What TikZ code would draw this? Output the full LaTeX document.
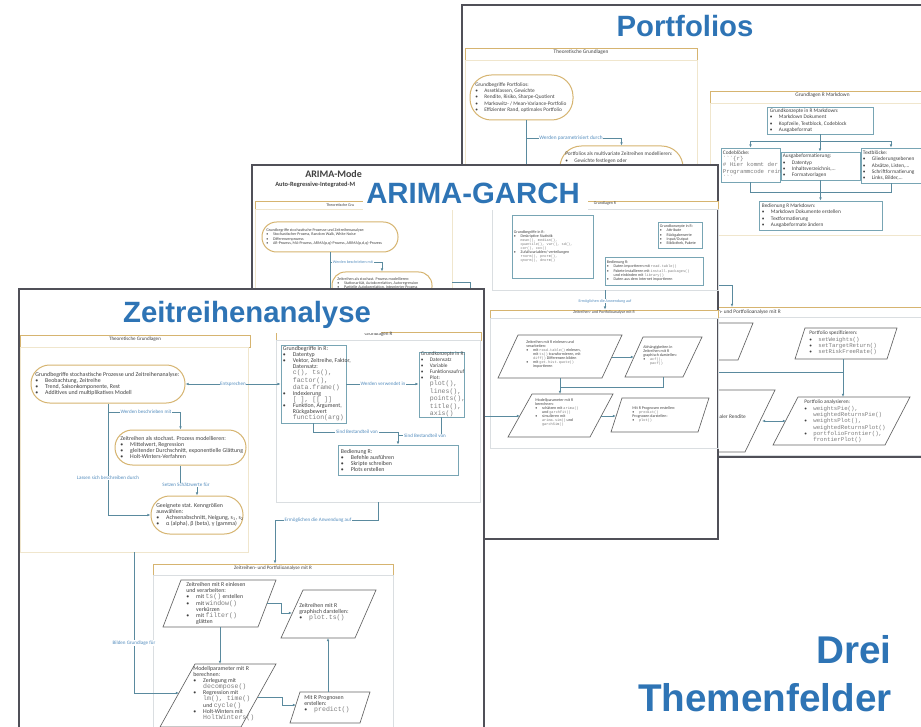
\documentclass[tikz,border=0pt]{standalone}
\usepackage{fontspec}
\setmainfont{Carlito}
\setmonofont{Liberation Mono}
\newfontfamily\ttlfont{Liberation Sans}
\usetikzlibrary{fit,arrows.meta,calc}
\definecolor{ttl}{RGB}{46,116,181}
\definecolor{gold}{RGB}{214,180,112}
\definecolor{goldl}{RGB}{240,230,205}
\definecolor{teal}{RGB}{120,165,180}
\definecolor{grl}{RGB}{218,222,225}
\definecolor{connc}{RGB}{90,138,158}
\definecolor{labc}{RGB}{84,141,190}
\definecolor{pgc}{RGB}{80,80,88}
\definecolor{parac}{RGB}{100,100,100}
\definecolor{txc}{RGB}{65,65,65}
\definecolor{cdc}{RGB}{125,125,125}
\newcommand\fZ{\fontsize{4.4}{4.5}\selectfont}
\newcommand\fZl{\fontsize{3.8}{4.5}\selectfont}
\newcommand\fA{\fontsize{3.0}{3.1}\selectfont}
\newcommand\fP{\fontsize{4.0}{4.7}\selectfont}
\newcommand\bl{\makebox[1.7em][l]{\textbullet}}
\newcommand\ind{\hspace*{1.7em}}
\def\cdsz{4}
\newcommand\cd[1]{{\ttfamily\color{cdc}\fontsize{\cdsz}{3}\selectfont #1}}
\tikzset{
 pagebox/.style={draw=pgc, fill=white, line width=0.8pt},
 hdr/.style={draw=gold, line width=0.5pt, fill=white, inner sep=0pt, text=txc},
 cont/.style={draw=goldl, line width=0.6pt, inner sep=0pt},
 rcont/.style={draw=grl, line width=0.6pt, inner sep=0pt},
 stad/.style={draw=gold, line width=0.75pt, fill=white, inner sep=0pt},
 tbox/.style={draw=teal, line width=0.55pt, fill=white, inner sep=0pt},
 para/.style={draw=parac, line width=0.5pt, fill=white},
 tx/.style={text=txc, align=left, inner sep=0pt},
 conn/.style={draw=connc, line width=0.55pt},
 arr/.style={conn, -{Latex[length=2.4pt,width=2pt]}},
 darr/.style={conn, {Latex[length=2.4pt,width=2pt]}-{Latex[length=2.4pt,width=2pt]}},
 lab/.style={text=labc, fill=white, inner sep=0.5pt},
 ttlst/.style={font=\ttlfont\bfseries\fontsize{22}{24}\selectfont, text=ttl, inner sep=0pt},
}
\begin{document}
\begin{tikzpicture}[x=0.75pt,y=-0.75pt]
\useasboundingbox (0,0) rectangle (921,727);
\fill[white] (0,0) rectangle (921,727);
\clip (0,0) rectangle (921,727);

%================ PORTFOLIOS PAGE ================
\def\cdsz{4.3}
\path[pagebox] (462,5) rectangle (935,457);
\node[ttlst, anchor=base] (tP) at (685,37) {Portfolios};
\node[hdr, font=\fP, fit={(465,48)(697,60)}] (hP1) {Theoretische Grundlagen};
\node[cont, fit={(465,60)(697,330)}] (pc1) {};
\node[stad, rounded corners=16pt, fit={(470,75)(573,120)}] (pA) {};
\node[tx, font=\fP, anchor=west] (pAt) at (475,97.5) {Grundbegriffe Portfolios:\\\bl Assetklassen, Gewichte\\\bl Rendite, Risiko, Sharpe-Quotient\\\bl Markowitz- / Mean-Variance-Portfolio\\\bl Effizienter Rand, optimales Portfolio};
\node[stad, rounded corners=16pt, fit={(560,146)(683,192)}] (pB) {};
\node[tx, font=\fP, anchor=north west] (pBt) at (565,152) {Portfolios als multivariate Zeitreihen modellieren:\\\bl Gewichte festlegen oder\\\ind optimieren};
\draw[conn] ($(pA.south)+(5,0)$) -- ++(0,60);
\draw[arr] ($(pA.south)+(5,18)$) -| (pB.north);
\node[lab, font=\fP] (lP1) at (571,138) {Werden parametrisiert durch};

\node[hdr, font=\fP, fit={(710,91)(935,103)}] (hP2) {Grundlagen R Markdown};
\node[cont, fit={(710,103)(935,235)}] (pc2) {};
\node[tbox, fit={(767,107)(873,134)}] (pR1) {};
\node[tx, font=\fP, anchor=west] (pR1t) at ($(pR1.west)+(3,0)$) {Grundkonzepte in R Markdown:\\\bl Markdown Dokument\\\bl Kopfzeile, Textblock, Codeblock\\\bl Ausgabeformat};
\node[tbox, fit={(721,148)(780,182)}] (pR2) {};
\node[tx, font=\fP, anchor=west] (pR2t) at ($(pR2.west)+(2,0)$) {Codeblöcke:\\\cd{```\{r\}}\\\cd{\# Hier kommt der}\\\cd{Programmcode rein}\\\cd{```}};
\node[tbox, fit={(781,152)(860,180)}] (pR3) {};
\node[tx, font=\fP, anchor=west] (pR3t) at ($(pR3.west)+(2,0)$) {Ausgabeformatierung:\\\bl Datentyp\\\bl Inhaltsverzeichnis,...\\\bl Formatvorlagen};
\node[tbox, fit={(861,148)(921,183)}] (pR4) {};
\node[tx, font=\fP, anchor=west] (pR4t) at ($(pR4.west)+(2,0)$) {Textblöcke:\\\bl Gliederungsebenen\\\bl Absätze, Listen,...\\\bl Schriftformatierung\\\bl Links, Bilder,...};
\node[tbox, fit={(759,201)(882,230)}] (pR5) {};
\node[tx, font=\fP, anchor=west] (pR5t) at ($(pR5.west)+(3,0)$) {Bedienung R Markdown:\\\bl Markdown Dokumente erstellen\\\bl Textformatierung\\\bl Ausgabeformate ändern};
\draw[conn] (pR1.south) -- ++(0,7) coordinate (pj1);
\draw[arr] (pj1) -| (pR2.north);
\draw[arr] (pj1) -| (pR4.north);
\draw[arr] (pj1) -- (pj1 |- pR3.north);
\draw[conn] (pR2.south) -- ++(0,10) -| (pR4.south);
\draw[arr] (pR3.south) -- (pR3.south |- pR5.north);

\node[hdr, fit={(500,307)(935,317)}] (hP3) {};
\node[tx, font=\fontsize{4.0}{4.7}\selectfont, anchor=east] (hP3t) at (781,312) {Zeitreihen- und Portfolioanalyse mit R};
\node[rcont, fit={(500,317)(935,455)}] (pc3) {};
\coordinate (pE1) at (700,285);
\coordinate (pE2) at (732,307);
\draw[arr] (pE1) -| (pE2);
\draw[para] (640,323) -- (753,323) -- (738,360) -- (625,360) -- cycle;
\node[tx, font=\fP, anchor=north west] (pL1t) at (650,328) {Renditen mit R berechnen:\\\bl Rendite und Volatilität};
\coordinate (pL1b) at (690,360);
\coordinate (pJ) at (843,372);
\draw[conn] (pL1b) |- (pJ);
\draw[para] (805,328) -- (897,328) -- (887,359) -- (795,359) -- cycle;
\node[tx, font=\fP, anchor=north west] (pSt) at (809,331) {Portfolio spezifizieren:\\\bl \cd{setWeights()}\\\bl \cd{setTargetReturn()}\\\bl \cd{setRiskFreeRate()}};
\coordinate (pSb) at (843,359);
\coordinate (pAnT) at (843,397);
\draw[arr] (pSb) -- (pAnT);
\draw[para] (798,397) -- (910,397) -- (885,445) -- (773,445) -- cycle;
\node[tx, font=\fP, anchor=north west] (pAnt) at (804,400) {Portfolio analysieren:\\\bl \cd{weightsPie(),}\\\ind\cd{weightedReturnsPie()}\\\bl \cd{weightsPlot(),}\\\ind\cd{weightedReturnsPlot()}\\\bl \cd{portfolioFrontier(),}\\\ind\cd{frontierPlot()}};
\draw[para] (690,390) -- (775,390) -- (745,452) -- (660,452) -- cycle;
\node[tx, font=\fP, anchor=east] (pL2t) at (746,417) {Portfolio mit maximaler Rendite};
\coordinate (pL2r) at (762,421);
\coordinate (pAnl) at (786,421);
\draw[darr] (pL2r) -- (pAnl);

%================ ARIMA PAGE ================
\def\cdsz{2.7}
\path[pagebox] (252,165) rectangle (718,539);
\node[anchor=base west, font=\bfseries\fontsize{7.5}{8}\selectfont, text=txc, inner sep=0pt] (aM1) at (305,178) {ARIMA-Mode};
\node[anchor=base west, font=\bfseries\fontsize{4.8}{5}\selectfont, text=txc, inner sep=0pt] (aM2) at (275,187) {Auto-Regressive-Integrated-M};
\node[hdr, fit={(255,201)(452,209)}] (hA1) {};
\node[tx, font=\fA, anchor=west] (hA1t) at (326,205) {Theoretische Gru};
\node[cont, fit={(255,209)(452,420)}] (ac1) {};
\node[hdr, font=\fA, fit={(492,201)(718,209)}] (hA2) {Grundlagen R};
\node[rcont, fit={(492,209)(718,290)}] (ac2) {};
\fill[white] (363,168) rectangle (588,210.5);
\node[ttlst, anchor=base] (tA) at (473,204) {ARIMA-GARCH};

\node[stad, rounded corners=11pt, fit={(262,222)(398,252)}] (aA) {};
\node[tx, font=\fA, anchor=west] (aAt) at (266,237) {Grundbegriffe stochastische Prozesse und Zeitreihenanalyse:\\\bl Stochastischer Prozess, Random Walk, White Noise\\\bl Differenzenprozess\\\bl AR-Prozess, MA-Prozess, ARMA(p,q)-Prozess, ARIMA(p,d,q)-Prozess};
\node[stad, rounded corners=10pt, fit={(332,272)(432,300)}] (aB) {};
\node[tx, font=\fA, anchor=north west] (aBt) at (337,277) {Zeitreihen als stochast. Prozess modellieren:\\\bl Stationarität, Autokorrelation, Autoregression\\\bl Partielle Autokorrelation, Integrierter Prozess};
\draw[conn] (aA.south) -- ++(0,60);
\draw[arr] ($(aA.south)+(0,10)$) -| (aB.north);
\node[lab, font=\fA] (lA1) at (353,262) {Werden beschrieben mit};

\node[tbox, fit={(512,215)(593,278)}] (aR1) {};
\node[tx, font=\fA, anchor=west] (aR1t) at ($(aR1.west)+(2,0)$) {Grundbegriffe in R:\\\bl Deskriptive Statistik\\\ind\cd{mean(), median(),}\\\ind\cd{quantile(), var(), sd(),}\\\ind\cd{cor(), cov()}\\\bl Zufallsvariablen/-verteilungen\\\ind\cd{rnorm(), pnorm(),}\\\ind\cd{qnorm(), dnorm()}};
\node[tbox, fit={(658,222)(702,248)}] (aR2) {};
\node[tx, font=\fA, anchor=west] (aR2t) at ($(aR2.west)+(2,0)$) {Grundkonzepte in R:\\\bl Attribute\\\bl Rückgabewerte\\\bl Input/Output\\\bl Bibliothek, Pakete};
\node[tbox, fit={(605,257)(703,285)}] (aR3) {};
\node[tx, font=\fA, anchor=west] (aR3t) at ($(aR3.west)+(2,0)$) {Bedienung R:\\\bl Daten importieren mit \cd{read.table()}\\\bl Pakete installieren mit \cd{install.packages()}\\\ind und einbinden mit \cd{library()}\\\bl Daten aus dem Internet importieren};

\node[hdr, font=\fA, fit={(490,310)(718,318)}] (hA3) {Zeitreihen- und Portfolioanalyse mit R};
\node[rcont, fit={(490,318)(718,448)}] (ac3) {};
\draw[arr] (ac2.south) -- (ac2.south |- hA3.north);
\node[lab, font=\fA] (lA2) at (605,301) {Ermöglichen die Anwendung auf};

\draw[para] (518,335) -- (622,335) -- (602,378) -- (498,378) -- cycle;
\node[tx, font=\fA, anchor=north west] (aP1t) at (526,340) {Zeitreihen mit R einlesen und\\verarbeiten:\\\bl mit \cd{read.table()} einlesen,\\\ind mit \cd{ts()} transformieren, mit\\\ind\cd{diff()} Differenzen bilden\\\bl mit \cd{get.hist.quote()}\\\ind importieren};
\draw[para] (643,337) -- (702,337) -- (683,377) -- (625,377) -- cycle;
\node[tx, font=\fA, anchor=north west] (aP2t) at (643,345) {Abhängigkeiten in\\Zeitreihen mit R\\graphisch darstellen:\\\bl \cd{acf(),}\\\ind\cd{pacf()}};
\draw[para] (532,394) -- (613,394) -- (590,437) -- (508,437) -- cycle;
\node[tx, font=\fA, anchor=north west] (aP3t) at (535,398) {Modellparameter mit R\\berechnen:\\\bl schätzen mit \cd{arima()}\\\ind und \cd{garchFit()}\\\bl simulieren mit\\\ind\cd{arima.sim()} und\\\ind\cd{garchSim()}};
\draw[para] (622,398) -- (709,398) -- (698,432) -- (611,432) -- cycle;
\node[tx, font=\fA, anchor=north west] (aP4t) at (632,406) {Mit R Prognosen erstellen:\\\bl \cd{predict()}\\Prognosen darstellen:\\\bl \cd{plot()}};
\coordinate (aP1r) at (612,357);
\coordinate (aP2l) at (634,357);
\coordinate (aP1b) at (560,378);
\coordinate (aP3t) at (560,394);
\coordinate (aP2b) at (663,377);
\coordinate (aJ) at (560,387);
\coordinate (aP3r) at (601,416);
\coordinate (aP4l) at (616,416);
\coordinate (aL1) at (452,282);
\coordinate (aL2) at (470,416);
\coordinate (aP3l) at (520,416);
\draw[arr] (aP1r) -- (aP2l);
\draw[arr] (aP1b) -- (aP3t);
\draw[conn] (aP2b) |- (aJ);
\draw[arr] (aP3r) -- (aP4l);
\draw[arr] (aL1) -| (aL2) -- (aP3l);

%================ ZEITREIHEN PAGE ================
\def\cdsz{4.9}
\path[pagebox] (19,289) rectangle (484,745);
\node[hdr, font=\fZl, fit={(20,335)(250,347)}] (hZ1) {Theoretische Grundlagen};
\node[cont, fit={(20,347)(248,552)}] (zc1) {};
\node[hdr, font=\fZl, fit={(276,332)(481,340)}] (hZ2) {Grundlagen R};
\node[rcont, fit={(276,340)(480,502)}] (zc2) {};
\fill[white] (112,293) rectangle (381,333);
\node[ttlst, anchor=base] (tZ) at (247,323) {Zeitreihenanalyse};

\node[stad, rounded corners=14pt, fit={(31,365)(185,403)}] (zA) {};
\node[tx, font=\fZ, anchor=west] (zAt) at (35,384) {Grundbegriffe stochastische Prozesse und Zeitreihenanalyse:\\\bl Beobachtung, Zeitreihe\\\bl Trend, Saisonkomponente, Rest\\\bl Additives und multiplikatives Modell};
\node[stad, rounded corners=13pt, fit={(115,430)(246,465)}] (zB) {};
\node[tx, font=\fZ, anchor=west] (zBt) at (120,447.5) {Zeitreihen als stochast. Prozess modellieren:\\\bl Mittelwert, Regression\\\bl gleitender Durchschnitt, exponentielle Glättung\\\bl Holt-Winters-Verfahren};
\node[stad, rounded corners=14pt, fit={(151,496)(243,534)}] (zC) {};
\node[tx, font=\fZ, anchor=west] (zCt) at (156,515) {Geeignete stat. Kenngrößen\\auswählen:\\\bl Achsenabschnitt, Neigung, s\textsubscript{1}, s\textsubscript{2}\\\bl α (alpha), β (beta), γ (gamma)};
\draw[arr] (zA.south) |- (zC.west);
\draw[arr] ($(zA.south)+(0,9)$) -| (zB.north);
\draw[arr] (zB.south) -- ++(0,20) -| (zC.north);
\node[lab, font=\fZl] (lZ1) at (146,412) {Werden beschrieben mit};
\node[lab, font=\fZl] (lZ2) at (108,478) {Lassen sich beschreiben durch};
\node[lab, font=\fZl] (lZ3) at (186,485) {Setzen Schätzwerte für};

\node[tbox, fit={(281,345)(346,423)}] (zR1) {};
\node[tx, font=\fZ, anchor=west] (zR1t) at ($(zR1.west)+(2,0)$) {Grundbegriffe in R:\\\bl Datentyp\\\bl Vektor, Zeitreihe, Faktor,\\\ind Datensatz:\\\ind\cd{c(), ts(),}\\\ind\cd{factor(),}\\\ind\cd{data.frame()}\\\bl Indexierung\\\ind\cd{[ ], [[ ]]}\\\bl Funktion, Argument,\\\ind Rückgabewert\\\ind\cd{function(arg)}};
\node[tbox, fit={(419,352)(464,417)}] (zR2) {};
\node[tx, font=\fontsize{4.0}{4.5}\selectfont, anchor=west] (zR2t) at ($(zR2.west)+(2,0)$) {Grundkonzepte in R:\\\bl Datensatz\\\bl Variable\\\bl Funktionsaufruf\\\bl Plot:\\\ind\cd{plot(),}\\\ind\cd{lines(),}\\\ind\cd{points(),}\\\ind\cd{title(),}\\\ind\cd{axis()}};
\node[tbox, fit={(338,445)(458,475)}] (zR3) {};
\node[tx, font=\fZ, anchor=west] (zR3t) at ($(zR3.west)+(3,0)$) {Bedienung R:\\\bl Befehle ausführen\\\bl Skripte schreiben\\\bl Plots erstellen};
\draw[darr] (zA.east) -- (zR1.west);
\node[lab, font=\fZl] (lZ4) at (233,384) {Entsprechen};
\draw[arr] (zR1.east) -- (zR1.east -| zR2.west);
\node[lab, font=\fZl] (lZ5) at (383,384) {Werden verwendet in};
\draw[arr] (zR1.south) -- ++(0,9) -| (zR3.north);
\draw[conn] (zR2.south) |- ($(zR3.north)+(0,-9)$);
\node[lab, font=\fZl] (lZ6) at (357,432) {Sind Bestandteil von};
\node[lab, font=\fZl] (lZ7) at (425,436) {Sind Bestandteil von};

\node[hdr, font=\fZl, fit={(153,564)(393,575)}] (hZ3) {Zeitreihen- und Portfolioanalyse mit R};
\node[rcont, fit={(153,575)(393,760)}] (zc3) {};
\coordinate (zE) at (275,520);
\draw[arr] (zc2.south) |- (zE) -- (zE |- hZ3.north);
\node[lab, font=\fZl] (lZ8) at (318,520) {Ermöglichen die Anwendung auf};
\coordinate (zP3l) at (179,693);
\draw[arr] (zc1.south) |- (zP3l);
\node[lab, font=\fZl] (lZ9) at (134,643) {Bilden Grundlage für};

\draw[para] (181,580) -- (276,580) -- (258,627) -- (163,627) -- cycle;
\node[tx, font=\fZ, anchor=north west] (zP1t) at (186,582) {Zeitreihen mit R einlesen\\und verarbeiten:\\\bl mit \cd{ts()} erstellen\\\bl mit \cd{window()}\\\ind verkürzen\\\bl mit \cd{filter()}\\\ind glätten};
\draw[para] (303,590) -- (376,590) -- (355,638) -- (281,638) -- cycle;
\node[tx, font=\fZ, anchor=west] (zP2t) at (299,612) {Zeitreihen mit R\\graphisch darstellen:\\\bl \cd{plot.ts()}};
\draw[para] (195,664) -- (276,664) -- (241,727) -- (160,727) -- cycle;
\node[tx, font=\fZ, anchor=north west] (zP3t) at (193,666) {Modellparameter mit R\\berechnen:\\\bl Zerlegung mit\\\ind\cd{decompose()}\\\bl Regression mit\\\ind\cd{lm(), time()}\\\ind und \cd{cycle()}\\\bl Holt-Winters mit\\\ind\cd{HoltWinters()}};
\draw[para] (300,692) -- (370,692) -- (360,723) -- (290,723) -- cycle;
\node[tx, font=\fZ, anchor=north west] (zP4t) at (304,695) {Mit R Prognosen\\erstellen:\\\bl \cd{predict()}};
\coordinate (zP1r) at (267,603);
\coordinate (zP2l) at (292,613);
\coordinate (zP1b) at (220,627);
\coordinate (zP3t) at (220,664);
\coordinate (zP3r) at (258,697);
\coordinate (zP4l) at (296,705);
\coordinate (zP4t) at (328,692);
\coordinate (zP2b) at (328,638);
\draw[arr] (zP1r) -- ++(14,0) |- (zP2l);
\draw[arr] (zP1b) -- (zP3t);
\draw[arr] (zP3r) -- ++(24,0) |- (zP4l);
\draw[arr] (zP4t) -- (zP2b);

%================ CAPTION ================
\node[ttlst, font=\ttlfont\bfseries\fontsize{29}{34}\selectfont, anchor=base east] (dr1) at (892,663) {Drei};
\node[ttlst, font=\ttlfont\bfseries\fontsize{29}{34}\selectfont, anchor=base east] (dr2) at (892,711) {Themenfelder};
\end{tikzpicture}
\end{document}
